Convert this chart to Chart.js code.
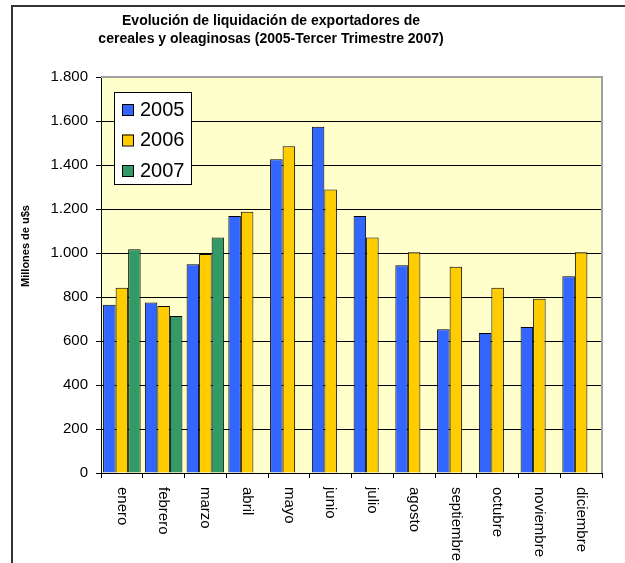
<!DOCTYPE html>
<html>
<head>
<meta charset="utf-8">
<script src="https://cdn.jsdelivr.net/npm/chart.js@4/dist/chart.umd.min.js"></script>
<style>
    body { margin: 0; background: #fff; }
    #wrap { position: relative; width: 625px; height: 563px; }
</style>
</head>
<body>
<div id="wrap"><canvas id="barChart"></canvas></div>
<script>
const months = ['enero', 'febrero', 'marzo', 'abril', 'mayo', 'junio', 'julio', 'agosto', 'septiembre', 'octubre', 'noviembre', 'diciembre'];
const years = ['2005', '2006', '2007'];
const values2005 = [765, 775, 949, 1168, 1426, 1574, 1168, 944, 653, 636, 664, 894];
const values2006 = [842, 759, 995, 1188, 1485, 1289, 1071, 1003, 938, 842, 792, 1003];
const values2007 = [1017, 714, 1071, null, null, null, null, null, null, null, null, null];
const titleLines = ['Evolución de liquidación de exportadores de', 'cereales y oleaginosas (2005-Tercer Trimestre 2007)'];
const yAxisTitle = 'Millones de u$s';

document.addEventListener('DOMContentLoaded', function() {
    const fontFamily = 'Arial, "Liberation Sans", sans-serif';

    function formatThousands(value) {
        return String(value).replace(/\B(?=(\d{3})+(?!\d))/g, '.');
    }

    // background, outer frame, plot fill, title and y title
    const backdrop = {
        id: 'backdrop',
        beforeDraw(chart) {
            const ctx = chart.ctx;
            const area = chart.chartArea;
            ctx.save();
            ctx.fillStyle = '#fff';
            ctx.fillRect(0, 0, chart.width, chart.height);
            ctx.strokeStyle = '#333';
            ctx.lineWidth = 2;
            ctx.beginPath();
            ctx.moveTo(12, chart.height + 5);
            ctx.lineTo(12, 6);
            ctx.lineTo(chart.width + 5, 6);
            ctx.stroke();
            ctx.fillStyle = '#FFFFCC';
            ctx.fillRect(area.left, area.top, area.right - area.left, area.bottom - area.top);

            ctx.fillStyle = '#000';
            ctx.font = 'bold 14px ' + fontFamily;
            ctx.textAlign = 'center';
            ctx.textBaseline = 'middle';
            titleLines.forEach((line, i) => ctx.fillText(line, 271, 21 + i * 18));

            ctx.font = 'bold 11px ' + fontFamily;
            ctx.translate(26, 246);
            ctx.rotate(-Math.PI / 2);
            ctx.fillText(yAxisTitle, 0, 0);
            ctx.restore();
        },
        afterDraw(chart) {
            const ctx = chart.ctx;
            const area = chart.chartArea;
            const xScale = chart.scales.x;
            ctx.save();
            // grey plot frame top and right
            ctx.strokeStyle = '#A0A0A0';
            ctx.lineWidth = 2;
            ctx.beginPath();
            ctx.moveTo(area.left, area.top);
            ctx.lineTo(area.right, area.top);
            ctx.lineTo(area.right, area.bottom);
            ctx.stroke();

            // month labels, rotated clockwise
            ctx.fillStyle = '#000';
            ctx.font = '15px ' + fontFamily;
            ctx.textAlign = 'left';
            ctx.textBaseline = 'middle';
            months.forEach((m, i) => {
                ctx.save();
                ctx.translate(xScale.getPixelForValue(i), area.bottom + 14);
                ctx.rotate(Math.PI / 2);
                ctx.fillText(m, 0, 0);
                ctx.restore();
            });

            // legend box inside the plot
            const lx = area.left + 13;
            const ly = area.top + 15;
            ctx.fillStyle = '#fff';
            ctx.fillRect(lx, ly, 77, 92);
            ctx.strokeStyle = '#000';
            ctx.lineWidth = 1;
            ctx.strokeRect(lx + 0.5, ly + 0.5, 77, 92);
            ctx.font = '20px ' + fontFamily;
            chart.data.datasets.forEach((ds, i) => {
                const cy = ly + 18 + i * 30.5;
                ctx.fillStyle = ds.backgroundColor;
                ctx.fillRect(lx + 8, cy - 6, 11, 11);
                ctx.strokeRect(lx + 8.5, cy - 5.5, 11, 11);
                ctx.fillStyle = '#000';
                ctx.fillText(ds.label, lx + 26, cy);
            });
            ctx.restore();
        }
    };

    const ctx = document.getElementById('barChart').getContext('2d');

    window.myBarChart = new Chart(ctx, {
        type: 'bar',
        data: {
            labels: months,
            datasets: [
                {
                    label: years[0],
                    data: values2005,
                    backgroundColor: '#3366FF', // Blue
                    borderColor: '#000',
                    borderWidth: 1
                },
                {
                    label: years[1],
                    data: values2006,
                    backgroundColor: '#FFCC00', // Yellow
                    borderColor: '#000',
                    borderWidth: 1
                },
                {
                    label: years[2],
                    data: values2007,
                    backgroundColor: '#339966', // Green
                    borderColor: '#000',
                    borderWidth: 1
                }
            ]
        },
        options: {
            responsive: true,
            maintainAspectRatio: false,
            animation: false,
            layout: {
                padding: { top: 77, right: 23, bottom: 0, left: 0 }
            },
            datasets: {
                bar: { categoryPercentage: 0.9, barPercentage: 1 }
            },
            plugins: {
                legend: { display: false },
                title: { display: false },
                tooltip: { enabled: false }
            },
            scales: {
                x: {
                    afterFit: function(scale) { scale.height = 90; },
                    grid: {
                        display: true,
                        drawOnChartArea: false,
                        drawTicks: true,
                        tickLength: 5,
                        color: '#000',
                        offset: true
                    },
                    border: { color: '#000', width: 1 },
                    ticks: { display: false }
                },
                y: {
                    min: 0,
                    max: 1800,
                    afterFit: function(scale) { scale.width = 101; },
                    grid: {
                        color: '#000',
                        drawTicks: true,
                        tickLength: 5
                    },
                    border: { color: '#000', width: 1 },
                    ticks: {
                        stepSize: 200,
                        padding: 8,
                        color: '#000',
                        font: { family: fontFamily, size: 15 },
                        callback: function(value) { return formatThousands(value); }
                    }
                }
            }
        },
        plugins: [backdrop]
    });
});
</script>
</body>
</html>
